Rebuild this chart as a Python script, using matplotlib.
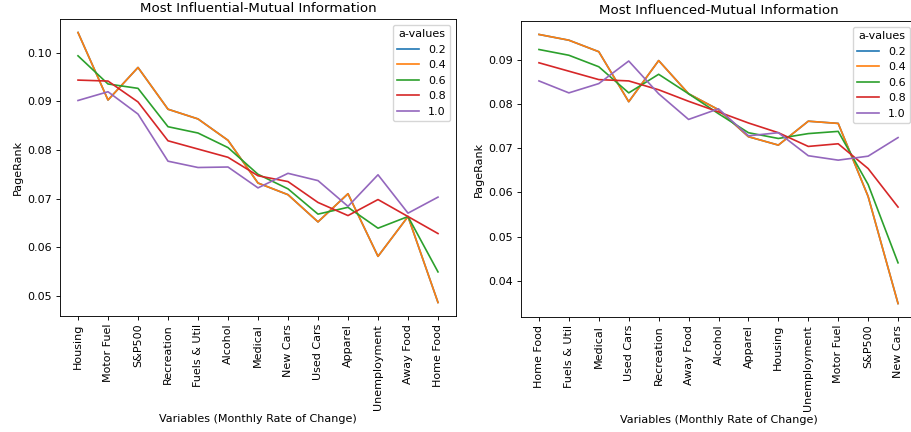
import matplotlib
matplotlib.use("Agg")
import matplotlib.pyplot as plt

# ---- data ----
a_values = ["0.2", "0.4", "0.6", "0.8", "1.0"]

left_title = "Most Influential-Mutual Information"
left_categories = ["Housing", "Motor Fuel", "S&P500", "Recreation", "Fuels & Util",
                   "Alcohol", "Medical", "New Cars", "Used Cars", "Apparel",
                   "Unemployment", "Away Food", "Home Food"]
left_a02 = [0.1042, 0.0903, 0.0970, 0.0884, 0.0864, 0.0820, 0.0732, 0.0708, 0.0652, 0.0710, 0.0581, 0.0663, 0.0486]
left_a04 = [0.1042, 0.0903, 0.0970, 0.0884, 0.0864, 0.0820, 0.0732, 0.0708, 0.0652, 0.0710, 0.0581, 0.0663, 0.0486]
left_a06 = [0.0994, 0.0936, 0.0927, 0.0848, 0.0835, 0.0805, 0.0750, 0.0720, 0.0668, 0.0682, 0.0639, 0.0663, 0.0549]
left_a08 = [0.0944, 0.0942, 0.0899, 0.0819, 0.0802, 0.0785, 0.0747, 0.0735, 0.0692, 0.0665, 0.0698, 0.0663, 0.0628]
left_a10 = [0.0902, 0.0920, 0.0874, 0.0777, 0.0764, 0.0765, 0.0722, 0.0752, 0.0737, 0.0684, 0.0749, 0.0670, 0.0703]

right_title = "Most Influenced-Mutual Information"
right_categories = ["Home Food", "Fuels & Util", "Medical", "Used Cars", "Recreation",
                    "Away Food", "Alcohol", "Apparel", "Housing", "Unemployment",
                    "Motor Fuel", "S&P500", "New Cars"]
right_a02 = [0.0957, 0.0944, 0.0918, 0.0805, 0.0898, 0.0823, 0.0787, 0.0726, 0.0707, 0.0761, 0.0756, 0.0591, 0.0349]
right_a04 = [0.0957, 0.0944, 0.0918, 0.0805, 0.0898, 0.0823, 0.0787, 0.0726, 0.0707, 0.0761, 0.0756, 0.0591, 0.0349]
right_a06 = [0.0923, 0.0910, 0.0884, 0.0825, 0.0867, 0.0823, 0.0778, 0.0735, 0.0722, 0.0733, 0.0738, 0.0618, 0.0441]
right_a08 = [0.0893, 0.0874, 0.0855, 0.0852, 0.0832, 0.0806, 0.0782, 0.0757, 0.0735, 0.0704, 0.0710, 0.0654, 0.0567]
right_a10 = [0.0852, 0.0825, 0.0846, 0.0897, 0.0823, 0.0765, 0.0789, 0.0728, 0.0735, 0.0683, 0.0673, 0.0682, 0.0724]

x_label = "Variables (Monthly Rate of Change)"
y_label = "PageRank"
legend_title = "a-values"

# ---- style ----
s = 0.8
plt.rcParams.update({
    "font.family": ["DejaVu Sans"],
    "font.size": 10 * s,
    "axes.titlesize": 12 * s,
    "axes.labelsize": 10 * s,
    "xtick.labelsize": 10 * s,
    "ytick.labelsize": 10 * s,
    "legend.fontsize": 10 * s,
    "legend.title_fontsize": 10 * s,
    "lines.linewidth": 1.5 * s,
    "axes.linewidth": 0.8 * s,
    "xtick.major.width": 0.8 * s,
    "ytick.major.width": 0.8 * s,
    "xtick.major.size": 3.5 * s,
    "ytick.major.size": 3.5 * s,
    "xtick.major.pad": 3.5 * s,
    "ytick.major.pad": 3.5 * s,
    "axes.titlepad": 6 * s,
    "axes.labelpad": 4 * s,
})

W, H = 911, 432
fig = plt.figure(figsize=(W / 100, H / 100), dpi=100)

ax1 = fig.add_axes([60 / W, 1 - 316 / H, 396 / W, 297 / H])
ax2 = fig.add_axes([521 / W, 1 - 317 / H, 395 / W, 296 / H])


def draw(ax, title, cats, series):
    for lab, vals in zip(a_values, series):
        ax.plot(cats, vals, label=lab)
    ax.set_title(title)
    ax.set_xlabel(x_label)
    ax.set_ylabel(y_label)
    ax.tick_params(axis="x", labelrotation=90)
    ax.legend(title=legend_title, loc="upper right")


draw(ax1, left_title, left_categories, [left_a02, left_a04, left_a06, left_a08, left_a10])
draw(ax2, right_title, right_categories, [right_a02, right_a04, right_a06, right_a08, right_a10])

fig.savefig("out.png", dpi=100)
